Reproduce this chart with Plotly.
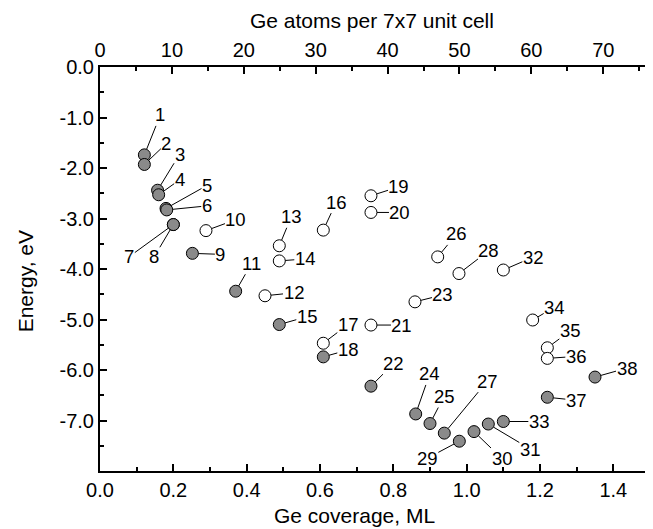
import plotly.graph_objects as go

# structure number, Ge coverage (ML), formation energy (eV), open symbol?
labels = [str(i) for i in range(1, 39)]
coverage = [0.121, 0.121, 0.157, 0.160, 0.180, 0.182, 0.200, 0.200, 0.252, 0.289,
            0.370, 0.450, 0.489, 0.489, 0.489, 0.609, 0.609, 0.609, 0.739, 0.739,
            0.739, 0.739, 0.859, 0.861, 0.900, 0.921, 0.939, 0.979, 0.980, 1.020,
            1.059, 1.100, 1.100, 1.180, 1.220, 1.220, 1.220, 1.350]
energy = [-1.74, -1.93, -2.44, -2.53, -2.80, -2.83, -3.12, -3.12, -3.69, -3.24,
          -4.44, -4.53, -3.54, -3.84, -5.10, -3.23, -5.47, -5.74, -2.55, -2.88,
          -5.11, -6.32, -4.65, -6.87, -7.06, -3.76, -7.25, -4.09, -7.41, -7.22,
          -7.07, -4.02, -7.02, -5.01, -5.56, -5.77, -6.54, -6.14]
open_ids = ["10", "12", "13", "14", "16", "17", "19", "20", "21", "23",
            "26", "28", "32", "34", "35", "36"]

x_ticks = [0.0, 0.2, 0.4, 0.6, 0.8, 1.0, 1.2, 1.4]
atom_ticks = [0, 10, 20, 30, 40, 50, 60, 70]
y_ticks = [0, -1, -2, -3, -4, -5, -6, -7]
y_ticktext = ["0.0", "-1.0", "-2.0", "-3.0", "-4.0", "-5.0", "-6.0", "-7.0"]

# label offsets in pixels (text centre relative to the point)
label_offsets = {
    "1": (16, -40), "2": (22, -21), "3": (22, -36), "4": (21, -15), "5": (41, -23),
    "6": (40, -4), "7": (-44, 32), "8": (-19, 32), "9": (28, 1), "10": (30, -11),
    "11": (16, -28), "12": (29, -3), "13": (12, -29), "14": (26, -2), "15": (28, -8),
    "16": (13, -28), "17": (25, -19), "18": (25, -7), "19": (28, -9), "20": (29, 0),
    "21": (31, 0), "22": (23, -23), "23": (28, -7), "24": (14, -40), "25": (14, -27),
    "26": (19, -23), "27": (43, -52), "28": (30, -23), "29": (-32, 17), "30": (28, 27),
    "31": (42, 25), "32": (30, -13), "33": (36, 0), "34": (22, -13), "35": (23, -17),
    "36": (29, -2), "37": (29, 3), "38": (32, -9),
}

FONT = "Liberation Sans, Arial, sans-serif"

fill = ["white" if l in open_ids else "#8a8a8a" for l in labels]

fig = go.Figure()
fig.add_trace(go.Scatter(
    x=coverage, y=energy, mode="markers", text=labels,
    marker=dict(size=12, color=fill, line=dict(color="black", width=1)),
    showlegend=False, hoverinfo="text+x+y",
))
# dummy trace so the top axis is drawn
fig.add_trace(go.Scatter(x=[0], y=[0], xaxis="x2", mode="markers",
                         marker=dict(opacity=0), showlegend=False, hoverinfo="skip"))

for l, xv, yv in zip(labels, coverage, energy):
    ax, ay = label_offsets[l]
    fig.add_annotation(
        x=xv, y=yv, text=l, showarrow=True, arrowhead=0, arrowwidth=1,
        arrowcolor="black", ax=ax, ay=ay, standoff=6, startstandoff=0,
        borderpad=0, font=dict(size=18.5, color="black", family=FONT),
    )

# axis titles placed by hand (plot area: x 100-650 px, y 67-471 px)
title_font = dict(size=21, color="black", family=FONT)
title_common = dict(xref="paper", yref="paper", showarrow=False, font=title_font,
                    xanchor="center", yanchor="middle")
fig.add_annotation(text="Ge coverage, ML", x=0.462, y=-0.109, **title_common)
fig.add_annotation(text="Ge atoms per 7x7 unit cell", x=0.494, y=1.116, **title_common)
fig.add_annotation(text="Energy, eV", textangle=-90, x=-0.136, y=0.47, **title_common)

axis_common = dict(showline=True, linewidth=2, linecolor="black", ticks="inside",
                   ticklen=7, tickwidth=1.5, tickcolor="black", showgrid=False,
                   zeroline=False, automargin=False,
                   tickfont=dict(size=20, color="black", family=FONT))

# the page body adds an 8px margin, so the figure is 8px smaller than the window
fig.update_layout(
    width=645, height=521,
    margin=dict(l=92, r=3, t=59, b=58),
    plot_bgcolor="white", paper_bgcolor="white",
    font=dict(family=FONT, color="black"),
    xaxis=dict(range=[0, 1.5], tickvals=x_ticks, tickformat=".1f",
               minor=dict(dtick=0.1, ticks="inside", ticklen=4, tickcolor="black"),
               **axis_common),
    xaxis2=dict(range=[0, 76.5], tickvals=atom_ticks, overlaying="x", side="top",
                minor=dict(dtick=5, ticks="inside", ticklen=4, tickcolor="black"),
                **axis_common),
    yaxis=dict(range=[-8, 0], tickvals=y_ticks, ticktext=y_ticktext, mirror=True,
               minor=dict(dtick=0.5, ticks="inside", ticklen=4, tickcolor="black"),
               **axis_common),
)

fig.write_html("out.html")
